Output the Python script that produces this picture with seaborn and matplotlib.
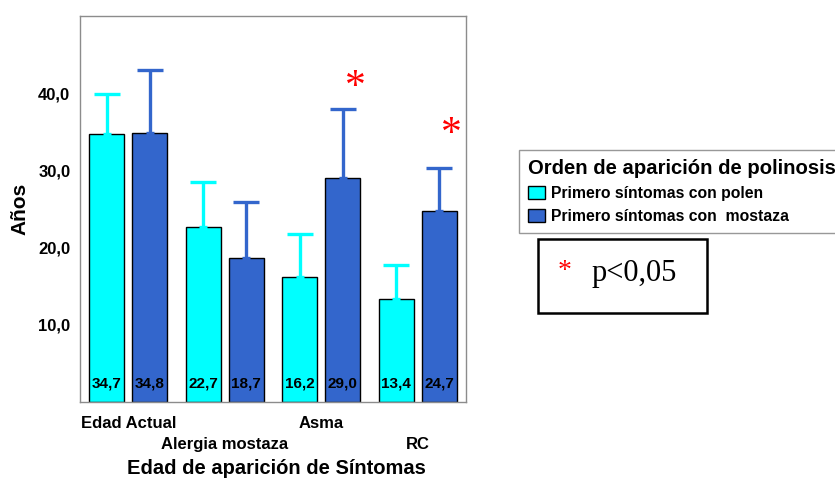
import numpy as np
import pandas as pd
import matplotlib
matplotlib.use("Agg")
import matplotlib.pyplot as plt
import seaborn as sns
from matplotlib.patches import Rectangle

# ---- data ----
categorias = ["Edad Actual", "Alergia mostaza", "Asma", "RC"]
grupos = ["Primero síntomas con polen", "Primero síntomas con  mostaza"]
media_polen = [34.7, 22.7, 16.2, 13.4]
media_mostaza = [34.8, 18.7, 29.0, 24.7]
error_polen = [5.2, 5.8, 5.6, 4.4]
error_mostaza = [8.2, 7.2, 8.9, 5.6]
significativo = [False, False, True, True]
asterisco_y = [None, None, 40.7, 34.6]
yticks = [10, 20, 30, 40]
ytick_labels = ["10,0", "20,0", "30,0", "40,0"]

colores = ["#00FFFF", "#3366CC"]

sns.set_style("white")
plt.rcParams["font.family"] = ["Liberation Sans", "DejaVu Sans"]
plt.rcParams["font.weight"] = "bold"
plt.rcParams["text.color"] = "black"
plt.rcParams["axes.labelcolor"] = "black"
plt.rcParams["xtick.color"] = "black"
plt.rcParams["ytick.color"] = "black"

df = pd.DataFrame({
    "categoria": categorias * 2,
    "grupo": [grupos[0]] * 4 + [grupos[1]] * 4,
    "media": media_polen + media_mostaza,
})

fig = plt.figure(figsize=(8.35, 4.78), dpi=100)
ax = fig.add_axes([80 / 835, 1 - 402 / 478, (466 - 80) / 835, (402 - 16) / 478])

sns.barplot(data=df, x="categoria", y="media", hue="grupo", order=categorias,
            hue_order=grupos, palette=colores, saturation=1, width=0.893, gap=0.187,
            edgecolor="black", linewidth=1.0, errorbar=None, ax=ax, zorder=2)

errores = [error_polen, error_mostaza]
medias = [media_polen, media_mostaza]
for cont, err, med, col in zip(ax.containers, errores, medias, colores):
    xs = [p.get_x() + p.get_width() / 2 for p in cont.patches]
    _, caps, _ = ax.errorbar(xs, med, yerr=[np.zeros(len(err)), err], fmt="none",
                             ecolor=col, elinewidth=2.4, capsize=9.5,
                             capthick=2.4, zorder=3)
    caps[0].set_markersize(6)
    for x, m in zip(xs, med):
        ax.text(x, 2.4, f"{m:.1f}".replace(".", ","), ha="center", va="center",
                fontsize=11, fontweight="bold", color="black", zorder=4)

# significance asterisks
cont_m = ax.containers[1]
for p, sig, ya in zip(cont_m.patches, significativo, asterisco_y):
    if sig:
        ax.text(p.get_x() + p.get_width() / 2 + 0.13, ya, "*", ha="center",
                va="center", fontsize=30, color="red",
                family="Liberation Serif", fontweight="normal")

ax.set_xlim(-0.5, 3.5)
ax.set_ylim(0, 50)
ax.set_yticks(yticks)
ax.set_yticklabels(ytick_labels)
# staggered category labels: even positions on major ticks, odd ones on minor ticks
pos = list(range(len(categorias)))
ax.set_xticks(pos[0::2], categorias[0::2])
ax.set_xticks(pos[1::2], categorias[1::2], minor=True)
ax.tick_params(axis="both", which="both", direction="out", length=6, width=2.2,
               color="black", labelsize=12)
ax.tick_params(axis="y", pad=1)
ax.tick_params(axis="x", which="major", pad=4)
ax.tick_params(axis="x", which="minor", pad=19)
for lab in (ax.get_xticklabels() + ax.get_xticklabels(minor=True)
            + ax.get_yticklabels()):
    lab.set_fontweight("bold")

for s in ax.spines.values():
    s.set_visible(True)
    s.set_color("#8c8c8c")
    s.set_linewidth(1.0)

ax.set_xlabel("Edad de aparición de Síntomas", fontsize=14.5, fontweight="bold")
ax.xaxis.set_label_coords(0.509, -0.171)
ax.xaxis.label.set_verticalalignment("center")
ax.set_ylabel("Años", fontsize=15, fontweight="bold", labelpad=6)

handles, labels = ax.get_legend_handles_labels()
ax.get_legend().remove()
leg = fig.legend(handles, labels, title="Orden de aparición de polinosis",
                 loc="upper left", bbox_to_anchor=(519 / 835, 1 - 150 / 478),
                 borderaxespad=0, frameon=True, fancybox=False, edgecolor="#7f7f7f",
                 fontsize=11.3, title_fontsize=14.6, alignment="left",
                 handlelength=1.05, handleheight=0.9, handletextpad=0.4,
                 labelspacing=0.5, borderpad=0.58)
leg.get_frame().set_linewidth(1.0)
leg.get_title().set_fontweight("bold")
for t in leg.get_texts():
    t.set_fontweight("bold")

# p-value box
fig.patches.append(Rectangle((538 / 835, 1 - 313 / 478), (707 - 538) / 835,
                             (313 - 239) / 478, transform=fig.transFigure,
                             facecolor="white", edgecolor="black", linewidth=1.8))
fig.text(565 / 835, 1 - 278 / 478, "*", color="red", fontsize=20,
         family="Liberation Serif", fontweight="normal", ha="center", va="baseline")
fig.text(592 / 835, 1 - 281 / 478, "p<0,05", color="black", fontsize=22,
         family="Liberation Serif", fontweight="normal", ha="left", va="baseline")

fig.savefig("out.png", dpi=100)
